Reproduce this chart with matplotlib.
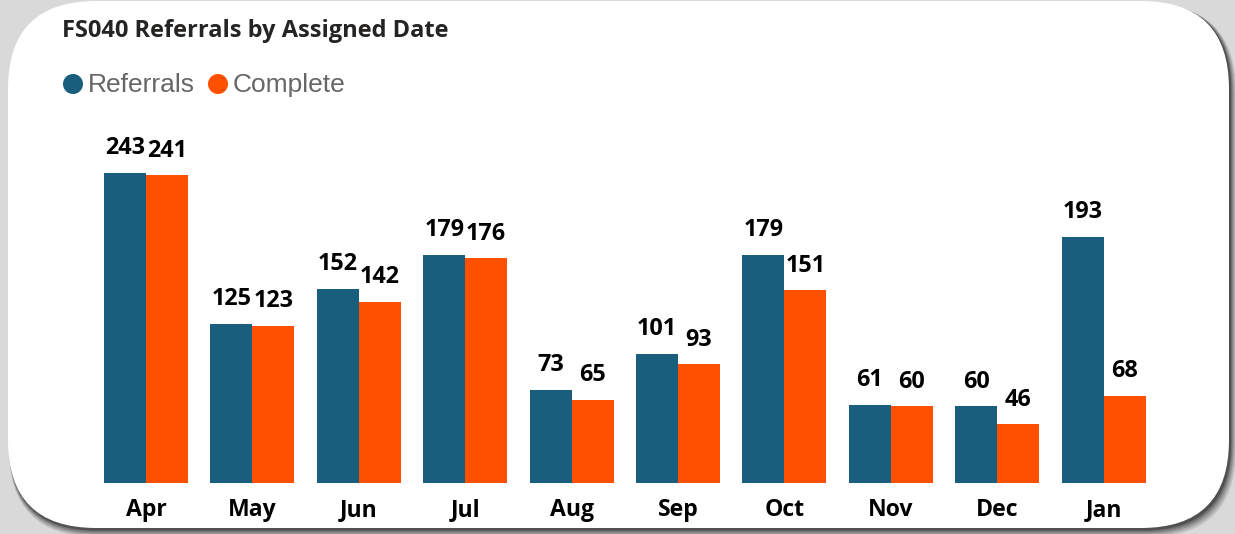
import matplotlib
matplotlib.use("Agg")
import matplotlib.pyplot as plt
from matplotlib.patches import FancyBboxPatch, Circle
import numpy as np

months = ["Apr", "May", "Jun", "Jul", "Aug", "Sep", "Oct", "Nov", "Dec", "Jan"]
referrals = [243, 125, 152, 179, 73, 101, 179, 61, 60, 193]
complete = [241, 123, 142, 176, 65, 93, 151, 60, 46, 68]
series_names = ["Referrals", "Complete"]
title = "FS040 Referrals by Assigned Date"

BLUE = "#1A5E7E"
ORANGE = "#FF5000"
W, H = 1235, 534

fig = plt.figure(figsize=(W / 100, H / 100), dpi=100)
fig.patch.set_facecolor("#D9D9D9")

# overlay axes in pixel coordinates (origin top-left)
bg = fig.add_axes([0, 0, 1, 1], zorder=0)
bg.set_xlim(0, W)
bg.set_ylim(H, 0)
bg.axis("off")

# card shadow
for k, a in enumerate([0.10, 0.12, 0.15, 0.2, 0.3]):
    off = 5 - k
    grow = (5 - k) * 0.6
    sh = FancyBboxPatch((9 + off * 0.6 - grow, 2 + off - grow), 1221 + 2 * grow, 527 + 2 * grow,
                        boxstyle="round,pad=0,rounding_size=88",
                        facecolor="black", edgecolor="none", alpha=a)
    bg.add_patch(sh)
card = FancyBboxPatch((8, 1), 1221, 527, boxstyle="round,pad=0,rounding_size=88",
                      facecolor="white", edgecolor="none")
bg.add_patch(card)

# title
bg.text(62, 37, title, fontsize=17, fontweight="bold", family="Open Sans",
        color="#252423", va="baseline", ha="left")

# legend
lx = 73
for name, col in zip(series_names, [BLUE, ORANGE]):
    bg.add_patch(Circle((lx, 84), 10, facecolor=col, edgecolor="none"))
    t = bg.text(lx + 15, 92, name, fontsize=19, family="Liberation Sans",
                color="#666666", va="baseline", ha="left")
    fig.canvas.draw()
    bb = t.get_window_extent()
    lx = bb.x1 + 23

# bar axes
spacing = 106.4
x0 = 146
left_px = x0 - 0.5 * spacing
base_px = 483
scale = 1.276
ymax = 280
ax = fig.add_axes([left_px / W, (H - base_px) / H, 10 * spacing / W, ymax * scale / H], zorder=1)
ax.patch.set_alpha(0)
x = np.arange(len(months))
bw = 42 / spacing
b1 = ax.bar(x - bw / 2, referrals, bw, color=BLUE)
b2 = ax.bar(x + bw / 2, complete, bw, color=ORANGE)
for bars, vals in [(b1, referrals), (b2, complete)]:
    for r, v in zip(bars, vals):
        ax.annotate(str(v), (r.get_x() + r.get_width() / 2, v), xytext=(0, 13.5),
                    textcoords="offset points", ha="center", va="baseline",
                    fontsize=16.8, fontweight="bold", family="Open Sans", color="black")
ax.set_xlim(-0.5, 9.5)
ax.set_ylim(0, ymax)
ax.set_xticks(x)
ax.set_xticklabels(months, fontsize=16.6, fontweight="bold", family="Open Sans", color="black")
ax.tick_params(axis="x", length=0, pad=11)
ax.set_yticks([])
for s in ax.spines.values():
    s.set_visible(False)

fig.savefig("out.png", dpi=100, facecolor=fig.get_facecolor())
